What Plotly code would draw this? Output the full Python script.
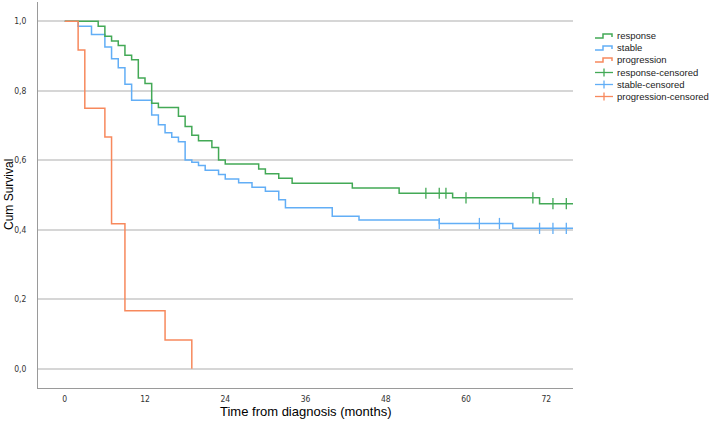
import plotly.graph_objects as go

# ---- data (months, cumulative survival) ----
response_t = [0, 5, 6, 7, 8, 9, 10, 11, 12, 13, 14, 17, 18, 19, 20, 22, 23, 24, 29, 30, 32, 34, 43, 50, 58, 71, 76]
response_s = [1.0, 0.986, 0.957, 0.943, 0.930, 0.902, 0.889, 0.837, 0.821, 0.764, 0.752, 0.727, 0.697, 0.672, 0.656, 0.637, 0.601, 0.589, 0.575, 0.561, 0.548, 0.534, 0.520, 0.505, 0.492, 0.475, 0.475]
response_cens_t = [54, 56, 57, 60, 70, 73, 75]
response_cens_s = [0.505, 0.505, 0.505, 0.492, 0.492, 0.475, 0.475]

stable_t = [0, 2, 4, 6, 7, 8, 9, 10, 13, 14, 15, 16, 17, 18, 19, 20, 21, 23, 24, 26, 28, 30, 32, 33, 40, 44, 56, 67, 76]
stable_s = [1.0, 0.986, 0.962, 0.926, 0.892, 0.866, 0.819, 0.773, 0.730, 0.702, 0.679, 0.666, 0.653, 0.601, 0.594, 0.585, 0.571, 0.559, 0.546, 0.535, 0.522, 0.511, 0.486, 0.463, 0.439, 0.428, 0.418, 0.404, 0.404]
stable_cens_t = [56, 62, 65, 71, 73, 75]
stable_cens_s = [0.418, 0.418, 0.418, 0.404, 0.404, 0.404]

progression_t = [0, 2, 3, 6, 7, 9, 15, 19]
progression_s = [1.0, 0.917, 0.750, 0.667, 0.417, 0.167, 0.083, 0.0]

x_ticks = [0, 12, 24, 36, 48, 60, 72]
y_ticks = [0.0, 0.2, 0.4, 0.6, 0.8, 1.0]
y_ticktext = ["0,0", "0,2", "0,4", "0,6", "0,8", "1,0"]

legend_names = ["response", "stable", "progression",
                "response-censored", "stable-censored", "progression-censored"]

GREEN = "#43a956"
BLUE = "#62aef6"
ORANGE = "#f7895d"

W, H = 709, 428
ML, MR, MT, MB = 38, 136, 2, 40
PW, PH = W - ML - MR, H - MT - MB

fig = go.Figure()

fig.add_trace(go.Scatter(x=stable_t, y=stable_s, mode="lines", line=dict(color=BLUE, width=1.5, shape="hv"),
                         showlegend=False, hoverinfo="skip"))
fig.add_trace(go.Scatter(x=response_t, y=response_s, mode="lines", line=dict(color=GREEN, width=1.5, shape="hv"),
                         showlegend=False, hoverinfo="skip"))
fig.add_trace(go.Scatter(x=progression_t, y=progression_s, mode="lines", line=dict(color=ORANGE, width=1.5, shape="hv"),
                         showlegend=False, hoverinfo="skip"))
for xs, ys, c in [(response_cens_t, response_cens_s, GREEN), (stable_cens_t, stable_cens_s, BLUE)]:
    fig.add_trace(go.Scatter(x=xs, y=ys, mode="markers",
                             marker=dict(symbol="line-ns", size=8, line=dict(color=c, width=1.3)),
                             showlegend=False, hoverinfo="skip"))


def px2paper(px, py):
    return (px - ML) / PW, (MT + PH - py) / PH


shapes = []
annotations = []
legend_colors = [GREEN, BLUE, ORANGE, GREEN, BLUE, ORANGE]
legend_y = [36, 48, 60, 72.5, 84.5, 96.5]
for i, (name, col, ly) in enumerate(zip(legend_names, legend_colors, legend_y)):
    if i < 3:
        pts = [(595, ly + 2), (603, ly + 2), (603, ly - 2), (612, ly - 2), (612, ly + 1)]
        path = ""
        for j, (a, b) in enumerate(pts):
            xp, yp = px2paper(a, b)
            path += ("M" if j == 0 else "L") + f"{xp:.5f},{yp:.5f} "
        shapes.append(dict(type="path", path=path, xref="paper", yref="paper",
                           line=dict(color=col, width=1.5)))
    else:
        x0, y0 = px2paper(595, ly)
        x1, _ = px2paper(613, ly)
        shapes.append(dict(type="line", x0=x0, x1=x1, y0=y0, y1=y0, xref="paper", yref="paper",
                           line=dict(color=col, width=1.3)))
        xc, ya = px2paper(604, ly - 4)
        _, yb = px2paper(604, ly + 4)
        shapes.append(dict(type="line", x0=xc, x1=xc, y0=ya, y1=yb, xref="paper", yref="paper",
                           line=dict(color=col, width=1.3)))
    tx, ty = px2paper(615, ly)
    annotations.append(dict(text=name, x=tx, y=ty, xref="paper", yref="paper", xanchor="left",
                            yanchor="middle", showarrow=False,
                            font=dict(family="Liberation Sans, Arial, sans-serif", size=9.5, color="#222")))

xt, yt = px2paper(305, 411)
annotations.append(dict(text="Time from diagnosis (months)", x=xt, y=yt, xref="paper", yref="paper",
                        xanchor="center", yanchor="middle", showarrow=False,
                        font=dict(family="Liberation Sans, Arial, sans-serif", size=13, color="#000")))
xt, yt = px2paper(9, 195)
annotations.append(dict(text="Cum Survival", x=xt, y=yt, xref="paper", yref="paper", textangle=-90,
                        xanchor="center", yanchor="middle", showarrow=False,
                        font=dict(family="Liberation Sans, Arial, sans-serif", size=12, color="#000")))

tickfont = dict(family="Liberation Sans Narrow, Arial Narrow, DejaVu Sans Condensed, sans-serif", size=8.5, color="#333")

fig.update_layout(
    width=W, height=H,
    margin=dict(l=ML, r=MR, t=MT, b=MB, pad=0, autoexpand=False),
    paper_bgcolor="white", plot_bgcolor="white",
    showlegend=False,
    shapes=shapes, annotations=annotations,
    xaxis=dict(range=[-4, 76], tickvals=x_ticks, ticktext=[str(v) for v in x_ticks],
               showgrid=False, zeroline=False, showline=True, linecolor="#9a9a9a", linewidth=1,
               ticks="", tickfont=tickfont, ticklabelstandoff=3, automargin=False),
    yaxis=dict(range=[-0.0555, 1.0555], tickvals=y_ticks, ticktext=y_ticktext,
               showgrid=True, gridcolor="#d6d6d6", gridwidth=1.5, zeroline=False,
               showline=True, linecolor="#9a9a9a", linewidth=1,
               ticks="", tickfont=tickfont, ticklabelstandoff=9, automargin=False),
)

fig.write_html("out.html", config={"displayModeBar": False},
               post_script="document.body.style.margin='0px';document.body.style.overflow='hidden';")
